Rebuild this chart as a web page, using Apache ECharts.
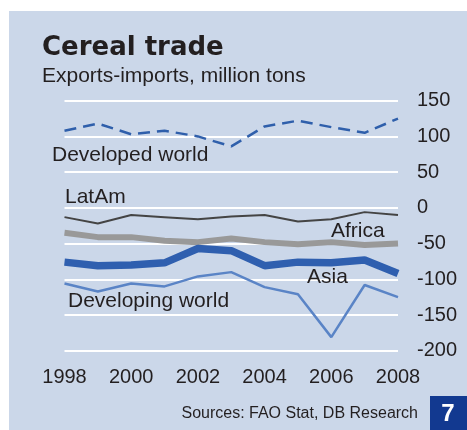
<!DOCTYPE html>
<html>
<head>
  <meta charset="utf-8">
  <title>Cereal trade</title>
  <script src="https://cdn.jsdelivr.net/npm/echarts@6/dist/echarts.min.js"></script>
  <style>
    body { margin: 0; background: #fff; }
  </style>
</head>
<body>
  <div id="main" style="width: 467px;height:430px;"></div>

  <script>
    const years = ["1998", "1999", "2000", "2001", "2002", "2003", "2004", "2005", "2006", "2007", "2008"];
    const developedWorld = [108, 118, 103, 108, 100, 86, 114, 122, 113, 105, 125];
    const latAm = [-13, -22, -10, -13, -16, -12, -10, -19, -16, -6, -10];
    const africa = [-35, -41, -41, -46, -48, -43, -48, -51, -48, -52, -50];
    const asia = [-76, -81, -80, -77, -57, -60, -81, -76, -77, -73, -92];
    const developingWorld = [-106, -117, -106, -110, -96, -90, -111, -121, -181, -108, -125];
    const yTicks = [-200, -150, -100, -50, 0, 50, 100, 150];

    const font = "Liberation Sans, Arial, sans-serif";
    const ink = "#231f20";

    const chart = echarts.init(document.getElementById("main"));

    function label(text, x, y) {
      return {
        type: "text", x: x, y: y, z: 10,
        style: { text: text, font: "21px " + font, fill: ink, textVerticalAlign: "middle" }
      };
    }

    const option = {
      backgroundColor: "#ffffff",
      animation: false,
      grid: { left: 64.5, top: 100.7, width: 333.5, height: 250 },
      xAxis: {
        type: "category",
        data: years,
        boundaryGap: false,
        axisLine: { show: false },
        axisTick: { show: false },
        splitLine: { show: false },
        axisLabel: {
          interval: 1, margin: 17,
          fontFamily: font, fontSize: 20, color: ink
        }
      },
      yAxis: {
        type: "value",
        position: "right",
        min: yTicks[0],
        max: yTicks[yTicks.length - 1],
        interval: 50,
        axisLine: { show: false },
        axisTick: { show: false },
        splitLine: { lineStyle: { color: "#ffffff", width: 2 } },
        axisLabel: {
          margin: 19, align: "left",
          fontFamily: font, fontSize: 20, color: ink
        }
      },
      graphic: [
        { type: "rect", z: -10, shape: { x: 9, y: 11, width: 458, height: 419 }, style: { fill: "#cbd7e9" } },
        { type: "text", x: 42, y: 48, style: { text: "Cereal trade", font: "bold 26px DejaVu Sans, sans-serif", fill: ink, textVerticalAlign: "middle" } },
        { type: "text", x: 42, y: 76, style: { text: "Exports-imports, million tons", font: "21px " + font, fill: ink, textVerticalAlign: "middle" } },
        label("Developed world", 52, 155),
        label("LatAm", 65, 197),
        label("Africa", 331, 231),
        label("Asia", 307, 277),
        label("Developing world", 68, 301),
        { type: "text", x: 418, y: 414, style: { text: "Sources: FAO Stat, DB Research", font: "16px " + font, fill: ink, textAlign: "right", textVerticalAlign: "middle" } },
        { type: "rect", shape: { x: 430, y: 396, width: 37, height: 34 }, style: { fill: "#123990" } },
        { type: "text", x: 448, y: 414, style: { text: "7", font: "bold 24px " + font, fill: "#ffffff", textAlign: "center", textVerticalAlign: "middle" } }
      ],
      series: [
        { name: "Developed world", type: "line", data: developedWorld, symbol: "none", z: 3,
          lineStyle: { color: "#2f5fab", width: 2.5, type: [12, 7] } },
        { name: "LatAm", type: "line", data: latAm, symbol: "none", z: 3,
          lineStyle: { color: "#444444", width: 2 } },
        { name: "Africa", type: "line", data: africa, symbol: "none", z: 3,
          lineStyle: { color: "#999999", width: 6 } },
        { name: "Asia", type: "line", data: asia, symbol: "none", z: 4,
          lineStyle: { color: "#2f5faf", width: 7.5 } },
        { name: "Developing world", type: "line", data: developingWorld, symbol: "none", z: 3,
          lineStyle: { color: "#5a84c6", width: 2.5 } }
      ]
    };
    chart.setOption(option);
  </script>
</body>
</html>
